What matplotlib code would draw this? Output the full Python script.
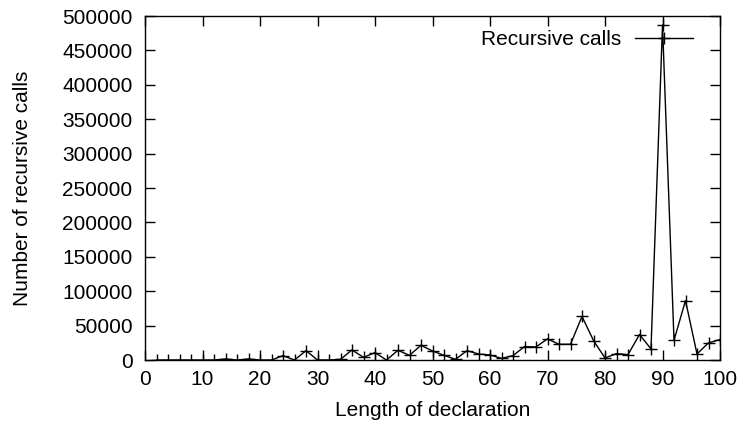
import matplotlib
matplotlib.use("Agg")
import matplotlib.pyplot as plt

lengths = list(range(2, 101, 2))
calls = [0, 0, 0, 0, 0, 0, 1500, 0, 1500, 0,
         0, 6300, 0, 13600, 0, 0, 1000, 14600, 3900, 10700,
         0, 14100, 6800, 21400, 13100, 6800, 1000, 13600, 8800, 7300,
         2400, 6300, 19500, 19000, 30700, 22900, 22900, 63300, 28300, 2900,
         9300, 7800, 37000, 16100, 487000, 28700, 86300, 8800, 24900, 29700]

x_ticks = list(range(0, 101, 10))
y_ticks = list(range(0, 500001, 50000))

plt.rcParams['font.family'] = ['Liberation Sans', 'DejaVu Sans']
FS = 15
fig = plt.figure(figsize=(7.43, 4.25), dpi=100)
ax = fig.add_axes([145/743, 65/425, 575/743, 344/425])
ax.plot(lengths, calls, color='black', linewidth=1.0, marker='+',
        markersize=9, markeredgewidth=1.0, label='Recursive calls')
ax.set_xlim(0, 100)
ax.set_ylim(0, 500000)
ax.set_xticks(x_ticks)
ax.set_yticks(y_ticks)
ax.set_xticklabels([str(v) for v in x_ticks])
ax.set_yticklabels([str(v) for v in y_ticks])
ax.tick_params(direction='in', length=7, width=1, labelsize=FS,
               top=True, right=True)
ax.tick_params(axis='y', pad=9)
ax.tick_params(axis='x', pad=7)
for s in ax.spines.values():
    s.set_linewidth(1.0)
ax.set_xlabel('Length of declaration', fontsize=FS, labelpad=9)
ax.set_ylabel('Number of recursive calls', fontsize=FS, labelpad=22)
ax.legend(loc='upper right', frameon=False, markerfirst=False, fontsize=FS,
          handlelength=2.8, handletextpad=0.65, bbox_to_anchor=(0.975, 0.995),
          borderaxespad=0.2)
fig.savefig('out.png', dpi=100)
